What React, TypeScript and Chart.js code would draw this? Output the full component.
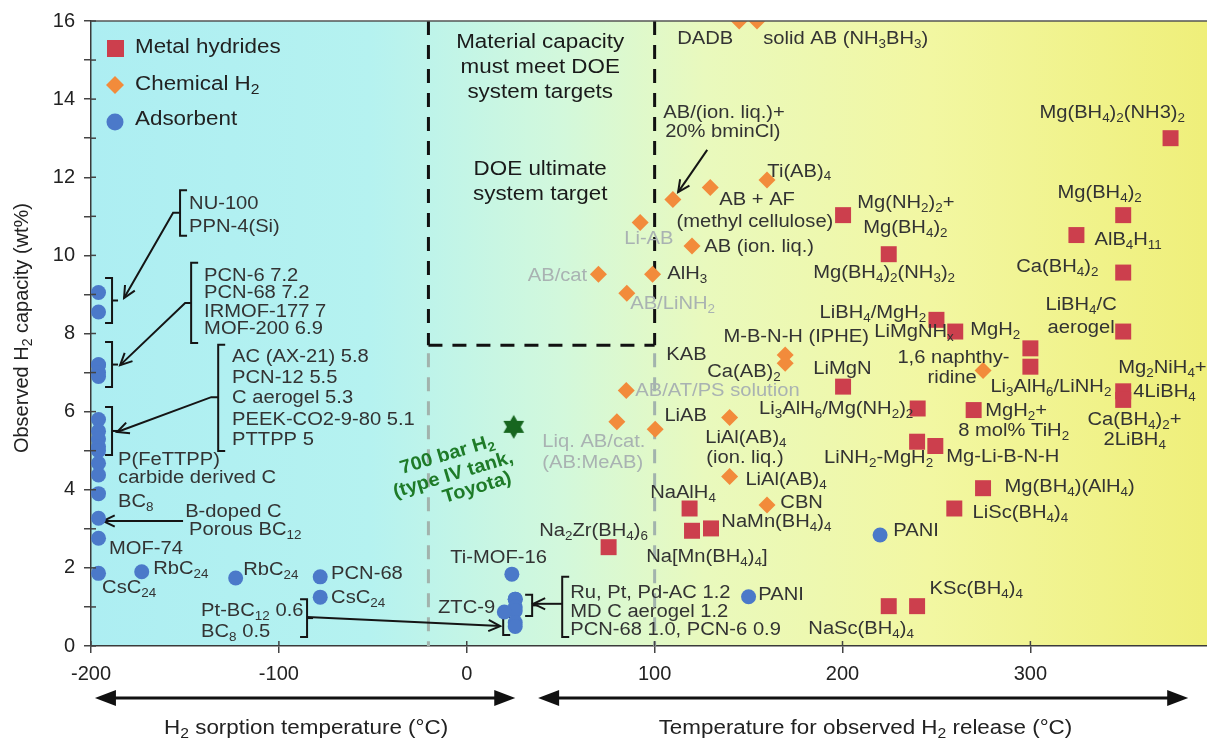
import React, { useEffect, useRef } from "react";
import { Chart, registerables } from "chart.js";
Chart.register(...registerables);

const FONT = '"Liberation Sans", Arial, Helvetica, sans-serif';
const STRETCH = 1.12;

// ---------------- data ----------------
const hydrideTemp = [75.5, 118.6, 119.9, 130, 374.6, 200.3, 224.6, 349.4, 324.5, 349.4, 250, 260, 300, 349.4, 300, 200.3, 349.4, 349.4, 240, 269.8, 239.7, 249.4, 274.8, 259.5, 224.6, 239.7];
const hydrideCap = [2.53, 3.52, 2.95, 3.01, 13.0, 11.03, 10.03, 11.03, 10.52, 9.56, 8.35, 8.05, 7.62, 8.05, 7.15, 6.64, 6.52, 6.3, 6.08, 6.04, 5.23, 5.12, 4.04, 3.52, 1.02, 1.02];

const chemTemp = [145, 154.5, 109.7, 129.6, 159.8, 92.3, 119.9, 70.1, 98.9, 85.2, 169.5, 169.5, 84.9, 79.9, 100.3, 139.9, 139.9, 159.8, 274.8];
const chemCap = [16.0, 16.0, 11.43, 11.74, 11.93, 10.84, 10.24, 9.52, 9.52, 9.03, 7.45, 7.24, 6.54, 5.74, 5.55, 5.85, 4.34, 3.61, 7.05];

const adsTemp = [-196, -196, -196, -196, -196, -196, -196, -196, -196, -196, -196, -196, -196, -196, -196, -196, -196, -173, -123, -78, -78, 24, 25.8, 25.8, 25.8, 25.8, 25.8, 25.8, 20, 150, 220];
const adsCap = [9.05, 8.55, 7.2, 7.2, 7.0, 6.9, 5.8, 5.5, 5.3, 5.1, 5.0, 4.68, 4.38, 3.9, 3.27, 2.76, 1.86, 1.9, 1.74, 1.77, 1.25, 1.84, 1.2, 1.2, 1.0, 0.9, 0.6, 0.5, 0.87, 1.26, 2.84];

const tankTemp = [25];
const tankCap = [5.61];

const xTickValues = [-200, -100, 0, 100, 200, 300];
const xMin = -200;
const xMax = 394;
const yMin = 0;
const yMax = 16;

// DOE target box
const doeLeft = -20.4;
const doeRight = 100;
const doeCap = 7.7;

// axis direction arrows (temperature values at their tips)
const sorptionArrow = [-197.9, 25.8];
const releaseArrow = [38, 384];

// ---------------- annotations (data coordinates) ----------------
type Lbl = [string, number, number, string?];
const darkLabels: Lbl[] = [
  ["NU-100", -147.8, 11.32], ["PPN-4(Si)", -147.8, 10.73],
  ["PCN-6 7.2", -139.8, 9.47], ["PCN-68 7.2", -139.8, 9.04], ["IRMOF-177 7", -139.8, 8.55], ["MOF-200 6.9", -139.8, 8.12],
  ["AC (AX-21) 5.8", -124.9, 7.4], ["PCN-12 5.5", -124.9, 6.86], ["C aerogel 5.3", -124.9, 6.35], ["PEEK-CO2-9-80 5.1", -124.9, 5.79], ["PTTPP 5", -124.9, 5.27],
  ["P(FeTTPP)", -185.6, 4.76], ["carbide derived C", -185.6, 4.3], ["BC_8", -185.6, 3.69],
  ["B-doped C", -149.9, 3.43], ["Porous BC_12", -147.8, 2.97], ["MOF-74", -190.4, 2.48],
  ["RbC_24", -166.9, 1.97], ["CsC_24", -194.1, 1.48], ["RbC_24", -119.0, 1.95], ["PCN-68", -72.2, 1.84], ["CsC_24", -72.2, 1.23],
  ["Pt-BC_12 0.6", -141.4, 0.9], ["BC_8 0.5", -141.4, 0.36],
  ["Ti-MOF-16", -8.8, 2.25], ["ZTC-9", 15.1, 0.97, "r"],
  ["Ru, Pt, Pd-AC 1.2", 55.1, 1.36], ["MD C aerogel 1.2", 55.1, 0.87], ["PCN-68 1.0, PCN-6 0.9", 55.1, 0.41],
  ["PANI", 155.2, 1.31], ["PANI", 227.0, 2.94],
  ["DADB", 112.0, 15.54], ["solid AB (NH_3BH_3)", 157.8, 15.54],
  ["AB/(ion. liq.)+", 104.6, 13.65], ["20% bminCl)", 105.6, 13.16],
  ["Ti(AB)_4", 160.0, 12.14], ["AB + AF", 134.4, 11.42], ["(methyl cellulose)", 195.1, 10.86, "r"],
  ["AB (ion. liq.)", 126.4, 10.22], ["AlH_3", 106.7, 9.52], ["M-B-N-H (IPHE)", 136.6, 7.91],
  ["KAB", 106.2, 7.45], ["Ca(AB)_2", 128.0, 7.01], ["LiAB", 105.2, 5.89],
  ["LiAl(AB)_4", 126.9, 5.33], ["(ion. liq.)", 127.5, 4.81], ["LiAl(AB)_4", 148.3, 4.25], ["CBN", 166.9, 3.66],
  ["NaAlH_4", 97.6, 3.92], ["NaMn(BH_4)_4", 135.5, 3.17], ["Na_2Zr(BH_4)_6", 38.6, 2.94], ["Na[Mn(BH_4)_4]", 95.5, 2.28],
  ["Mg(BH_4)_2(NH3)_2", 304.8, 13.65], ["Mg(NH_2)_2+", 207.8, 11.34], ["Mg(BH_4)_2", 211.0, 10.7],
  ["Mg(BH_4)_2(NH_3)_2", 184.4, 9.55], ["Mg(BH_4)_2", 314.4, 11.6], ["AlB_4H_11", 334.1, 10.39],
  ["Ca(BH_4)_2", 336.2, 9.7, "r"], ["LiBH_4/C", 308.0, 8.73], ["aerogel", 309.1, 8.14],
  ["LiBH_4/MgH_2", 244.6, 8.53, "r"], ["LiMgNH_x", 216.9, 8.04], ["MgH_2", 294.6, 8.09, "r"],
  ["1,6 naphthy-", 229.2, 7.37], ["ridine", 245.2, 6.86], ["LiMgN", 184.4, 7.09],
  ["Li_3AlH_6/LiNH_2", 278.7, 6.63], ["Mg_2NiH_4+", 346.8, 7.12], ["4LiBH_4", 354.8, 6.5],
  ["Li_3AlH_6/Mg(NH_2)_2", 237.7, 6.07, "r"], ["MgH_2+", 276.0, 6.02], ["8 mol% TiH_2", 261.6, 5.5],
  ["Ca(BH_4)_2+", 330.4, 5.79], ["2LiBH_4", 338.9, 5.27],
  ["LiNH_2-MgH_2", 190.2, 4.81], ["Mg-Li-B-N-H", 255.2, 4.84], ["Mg(BH_4)(AlH_4)", 286.2, 4.07],
  ["LiSc(BH_4)_4", 269.2, 3.41], ["KSc(BH_4)_4", 246.3, 1.46], ["NaSc(BH_4)_4", 181.8, 0.44],
];
const grayLabels: Lbl[] = [
  ["Li-AB", 83.8, 10.42], ["AB/cat", 64.1, 9.47, "r"], ["AB/LiNH_2", 87.0, 8.76],
  ["AB/AT/PS solution", 89.7, 6.53], ["Liq. AB/cat.", 40.2, 5.22], ["(AB:MeAB)", 40.2, 4.69],
];
const boxLabels: Lbl[] = [
  ["Material capacity", 39.1, 15.44], ["must meet DOE", 39.1, 14.8], ["system targets", 39.1, 14.16],
  ["DOE ultimate", 39.1, 12.19], ["system target", 39.1, 11.55],
];
const greenLabels: Lbl[] = [
  ["700 bar H_2", -10.4, 4.89], ["(type IV tank,", -7.2, 4.38], ["Toyota)", 5.5, 4.05],
];
// brackets: x, yTop, yBottom, opening side
const brackets: [number, number, number, string][] = [
  [-152.6, 11.67, 10.5, "["], [-188.8, 9.42, 8.27, "]"],
  [-146.7, 9.81, 7.76, "["], [-188.8, 7.78, 6.63, "]"],
  [-132.3, 7.71, 4.99, "["], [-188.8, 6.12, 4.89, "]"],
  [-85.0, 1.2, 0.23, "]"], [19.4, 0.74, 0.28, "["],
  [34.8, 1.31, 0.77, "]"], [50.8, 1.77, 0.23, "["],
];
const arrows: [number, number][][] = [
  [[-152.6, 11.09], [-156.3, 11.09], [-182.4, 8.91]],
  [[-146.7, 8.78], [-149.9, 8.78], [-184.5, 7.19]],
  [[-132.3, 6.37], [-136.0, 6.37], [-186.1, 5.48]],
  [[-151, 3.2], [-193.6, 3.2]],
  [[-85.0, 0.74], [17.8, 0.51]],
  [[50.8, 1.08], [35.5, 1.08]],
  [[128.0, 12.7], [112.5, 11.62]],
];

const RED = "#cc3f4d";
const ORANGE = "#f28b3b";
const BLUE = "#4b79c9";
const STAR_GREEN = "#17661f";
const TEXT = "#333333";
const GRAY_TEXT = "#a9b2b2";
const GREEN_TEXT = "#1e7b28";

// ---------------- helpers ----------------
function parseRich(s: string) {
  const parts: { t: string; sub: boolean }[] = [];
  const re = /_([0-9x]+)/g;
  let last = 0;
  let m: RegExpExecArray | null;
  while ((m = re.exec(s))) {
    if (m.index > last) parts.push({ t: s.slice(last, m.index), sub: false });
    parts.push({ t: m[1], sub: true });
    last = m.index + m[0].length;
  }
  if (last < s.length) parts.push({ t: s.slice(last), sub: false });
  return parts;
}

function drawRich(ctx: CanvasRenderingContext2D, s: string, x: number, y: number, size: number, color: string, align = "l", opts: any = {}) {
  const weight = opts.weight || "normal";
  const stretch = opts.stretch ?? STRETCH;
  const angle = opts.angle || 0;
  const parts = parseRich(s);
  const mainF = `${weight} ${size}px ${FONT}`;
  const subF = `${weight} ${Math.round(size * 0.68)}px ${FONT}`;
  let w = 0;
  const widths = parts.map((p) => {
    ctx.font = p.sub ? subF : mainF;
    const mw = ctx.measureText(p.t).width;
    w += mw;
    return mw;
  });
  ctx.save();
  ctx.translate(x, y);
  if (angle) ctx.rotate(angle);
  ctx.scale(stretch, 1);
  let cx = align === "l" ? 0 : align === "c" ? -w / 2 : -w;
  ctx.fillStyle = color;
  ctx.textBaseline = "middle";
  ctx.textAlign = "left";
  parts.forEach((p, i) => {
    ctx.font = p.sub ? subF : mainF;
    ctx.fillText(p.t, cx, p.sub ? size * 0.3 : 0);
    cx += widths[i];
  });
  ctx.restore();
}

function seg(ctx: CanvasRenderingContext2D, x1: number, y1: number, x2: number, y2: number) {
  ctx.beginPath();
  ctx.moveTo(x1, y1);
  ctx.lineTo(x2, y2);
  ctx.stroke();
}

function filledHead(ctx: CanvasRenderingContext2D, tipX: number, y: number, dir: number) {
  ctx.beginPath();
  ctx.moveTo(tipX, y);
  ctx.lineTo(tipX - dir * 21, y - 8);
  ctx.lineTo(tipX - dir * 21, y + 8);
  ctx.closePath();
  ctx.fill();
}

function makeStar(r: number, color: string) {
  const c = document.createElement("canvas");
  c.width = c.height = 2 * r + 2;
  const g = c.getContext("2d")!;
  g.fillStyle = color;
  const cx = r + 1, cy = r + 1;
  [-Math.PI / 2, Math.PI / 2].forEach((start) => {
    g.beginPath();
    for (let k = 0; k < 3; k++) {
      const a = start + (k * 2 * Math.PI) / 3;
      const px = cx + r * Math.cos(a), py = cy + r * Math.sin(a);
      if (k === 0) g.moveTo(px, py); else g.lineTo(px, py);
    }
    g.closePath();
    g.fill();
  });
  return c;
}

const annotPlugin = {
  id: "annot",
  beforeDraw(chart: any) {
    const { ctx, chartArea: a } = chart;
    const g = ctx.createLinearGradient(a.left, 0, a.right, 0);
    g.addColorStop(0, "#adeef2");
    g.addColorStop(0.25, "#b5f2f0");
    g.addColorStop(0.42, "#d2f8dc");
    g.addColorStop(0.55, "#e9f9bd");
    g.addColorStop(0.75, "#f2f7a2");
    g.addColorStop(1, "#efef7a");
    ctx.save();
    ctx.fillStyle = g;
    ctx.fillRect(a.left, a.top, a.right - a.left, a.bottom - a.top);
    ctx.restore();
  },
  beforeDatasetsDraw(chart: any) {
    const { ctx } = chart;
    const xs = chart.scales.x, ys = chart.scales.y;
    const px = (v: number) => xs.getPixelForValue(v);
    const py = (v: number) => ys.getPixelForValue(v);
    ctx.save();
    ctx.lineWidth = 3;
    ctx.setLineDash([14, 10]);
    ctx.strokeStyle = "#a2b3ad";
    [doeLeft, doeRight].forEach((x) => seg(ctx, px(x), py(doeCap) + 8, px(x), py(yMin)));
    ctx.strokeStyle = "#111111";
    seg(ctx, px(doeLeft), py(yMax), px(doeLeft), py(doeCap));
    seg(ctx, px(doeRight), py(yMax), px(doeRight), py(doeCap));
    seg(ctx, px(doeLeft), py(doeCap), px(doeRight), py(doeCap));
    ctx.setLineDash([]);
    // brackets
    ctx.lineWidth = 2;
    ctx.strokeStyle = "#151515";
    brackets.forEach(([x, yt, yb, side]) => {
      const X = px(x), T = py(yt), B = py(yb);
      const w = side === "[" ? 7 : -7;
      ctx.beginPath();
      ctx.moveTo(X + w, T);
      ctx.lineTo(X, T);
      ctx.lineTo(X, B);
      ctx.lineTo(X + w, B);
      ctx.stroke();
      if (side === "]") seg(ctx, X, (T + B) / 2, X + 6, (T + B) / 2);
    });
    // arrows
    arrows.forEach((pts) => {
      const P = pts.map(([x, y]) => [px(x), py(y)]);
      ctx.beginPath();
      P.forEach(([x, y], i) => (i === 0 ? ctx.moveTo(x, y) : ctx.lineTo(x, y)));
      ctx.stroke();
      const [x2, y2] = P[P.length - 1];
      const [x1, y1] = P[P.length - 2];
      const ang = Math.atan2(y2 - y1, x2 - x1);
      const L = 13, sp = 0.45;
      ctx.beginPath();
      ctx.moveTo(x2 - L * Math.cos(ang - sp), y2 - L * Math.sin(ang - sp));
      ctx.lineTo(x2, y2);
      ctx.lineTo(x2 - L * Math.cos(ang + sp), y2 - L * Math.sin(ang + sp));
      ctx.stroke();
    });
    ctx.restore();
  },
  afterDatasetsDraw(chart: any) {
    const { ctx } = chart;
    const xs = chart.scales.x, ys = chart.scales.y;
    const px = (v: number) => xs.getPixelForValue(v);
    const py = (v: number) => ys.getPixelForValue(v);
    darkLabels.forEach(([t, x, y, al]) => drawRich(ctx, t, px(x), py(y), 18, TEXT, al || "l"));
    grayLabels.forEach(([t, x, y, al]) => drawRich(ctx, t, px(x), py(y), 18, GRAY_TEXT, al || "l"));
    boxLabels.forEach(([t, x, y]) => drawRich(ctx, t, px(x), py(y), 20, "#1a1a1a", "c"));
    greenLabels.forEach(([t, x, y]) =>
      drawRich(ctx, t, px(x), py(y), 19, GREEN_TEXT, "c", { weight: "bold", angle: -0.29, stretch: 1.05 })
    );
  },
  afterDraw(chart: any) {
    const { ctx, chartArea: a } = chart;
    const xs = chart.scales.x, ys = chart.scales.y;
    const px = (v: number) => xs.getPixelForValue(v);
    const py = (v: number) => ys.getPixelForValue(v);
    ctx.save();
    ctx.strokeStyle = "#555555";
    ctx.lineWidth = 1.5;
    seg(ctx, a.left, a.top, a.right, a.top);
    ctx.strokeStyle = "#444444";
    xTickValues.forEach((v) => seg(ctx, px(v), a.bottom - 5, px(v), a.bottom));
    for (let v = yMin; v <= yMax; v++) seg(ctx, a.left, py(v), a.left + 5, py(v));
    // legend
    const lx = a.left + 24;
    ctx.fillStyle = RED;
    ctx.fillRect(lx - 8, a.top + 19, 17, 17);
    ctx.fillStyle = ORANGE;
    ctx.beginPath();
    const dy = a.top + 64;
    ctx.moveTo(lx - 9, dy); ctx.lineTo(lx, dy - 9); ctx.lineTo(lx + 9, dy); ctx.lineTo(lx, dy + 9);
    ctx.closePath(); ctx.fill();
    ctx.fillStyle = BLUE;
    ctx.beginPath(); ctx.arc(lx, a.top + 101, 8.5, 0, Math.PI * 2); ctx.fill();
    drawRich(ctx, "Metal hydrides", a.left + 44, a.top + 26, 20, "#222", "l");
    drawRich(ctx, "Chemical H_2", a.left + 44, a.top + 63, 20, "#222", "l");
    drawRich(ctx, "Adsorbent", a.left + 44, a.top + 98, 20, "#222", "l");
    // bottom arrows
    const ay = a.bottom + 52;
    ctx.strokeStyle = "#111"; ctx.fillStyle = "#111"; ctx.lineWidth = 3;
    const l1 = px(sorptionArrow[0]), r1 = px(sorptionArrow[1]);
    const l2 = px(releaseArrow[0]), r2 = px(releaseArrow[1]);
    seg(ctx, l1 + 15, ay, r1 - 15, ay);
    filledHead(ctx, l1, ay, -1); filledHead(ctx, r1, ay, 1);
    seg(ctx, l2 + 15, ay, r2 - 15, ay);
    filledHead(ctx, l2, ay, -1); filledHead(ctx, r2, ay, 1);
    drawRich(ctx, "H_2 sorption temperature (\u00b0C)", px(-85.5), a.bottom + 82, 20, "#222", "c");
    drawRich(ctx, "Temperature for observed H_2 release (\u00b0C)", px(212.2), a.bottom + 82, 20, "#222", "c");
    drawRich(ctx, "Observed H_2 capacity (wt%)", a.left - 69, py(8.14), 20, "#222", "c", { angle: -Math.PI / 2, stretch: 1 });
    ctx.restore();
  },
};

export default function App() {
  const ref = useRef<HTMLCanvasElement | null>(null);
  useEffect(() => {
    if (!ref.current) return;
    const star = makeStar(12, STAR_GREEN);
    const pts = (xs: number[], ys: number[]) => xs.map((x, i) => ({ x, y: ys[i] }));
    const chart = new Chart(ref.current, {
      type: "scatter",
      data: {
        datasets: [
          { label: "Adsorbent", data: pts(adsTemp, adsCap), pointStyle: "circle", pointRadius: 7.5, pointBackgroundColor: BLUE, pointBorderWidth: 0 } as any,
          { label: "Chemical H2", data: pts(chemTemp, chemCap), pointStyle: "rectRot", pointRadius: 8.5, pointBackgroundColor: ORANGE, pointBorderWidth: 0 } as any,
          { label: "Metal hydrides", data: pts(hydrideTemp, hydrideCap), pointStyle: "rect", pointRadius: 11.3, pointBackgroundColor: RED, pointBorderWidth: 0 } as any,
          { label: "700 bar H2", data: pts(tankTemp, tankCap), pointStyle: star, pointRadius: 12, pointBorderWidth: 0 } as any,
        ],
      },
      options: {
        responsive: false,
        animation: false,
        devicePixelRatio: 1,
        layout: { autoPadding: false, padding: { top: 21, right: 0, left: 0, bottom: 0 } },
        plugins: { legend: { display: false }, tooltip: { enabled: false } },
        scales: {
          x: {
            type: "linear",
            min: xMin,
            max: xMax,
            afterFit: (s: any) => { s.height = 94; s.paddingRight = 0; s.paddingLeft = 0; },
            afterBuildTicks: (s: any) => { s.ticks = xTickValues.map((v) => ({ value: v })); },
            grid: { drawOnChartArea: false, tickLength: 7, color: "#444", lineWidth: 1.5 },
            border: { color: "#3a3a3a", width: 1.5 },
            ticks: { font: { size: 20, family: FONT }, color: "#222", padding: 9, maxRotation: 0, autoSkip: false },
          },
          y: {
            min: yMin,
            max: yMax,
            afterFit: (s: any) => { s.width = 91; },
            grid: { drawOnChartArea: false, tickLength: 7, color: "#444", lineWidth: 1.5 },
            border: { color: "#3a3a3a", width: 1.5 },
            ticks: {
              stepSize: 1,
              autoSkip: false,
              font: { size: 20, family: FONT },
              color: "#222",
              padding: 9,
              callback: (v: any) => (Number(v) % 2 === 0 ? String(v) : ""),
            },
          },
        } as any,
      },
      plugins: [annotPlugin as any],
    });
    return () => chart.destroy();
  }, []);
  return (
    <div style={{ position: "absolute", left: 0, top: 0, width: 1207, height: 740, background: "#fff" }}>
      <canvas ref={ref} width={1207} height={740} style={{ display: "block" }} />
    </div>
  );
}
